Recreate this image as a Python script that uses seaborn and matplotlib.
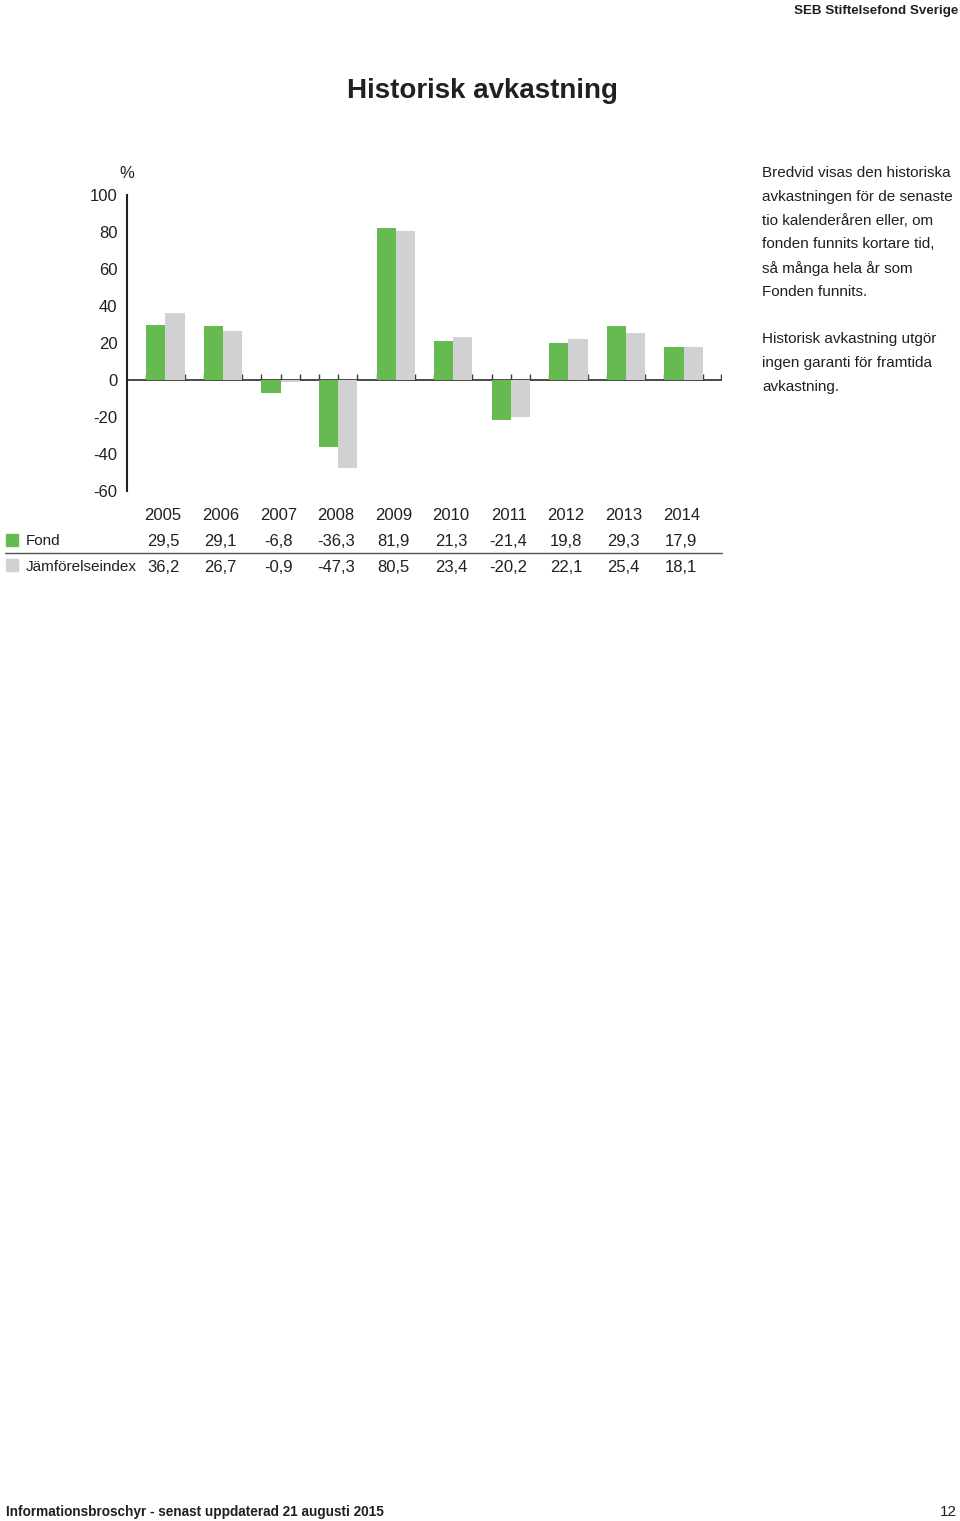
import numpy as np
import pandas as pd
import matplotlib.pyplot as plt
import matplotlib.transforms as mtransforms
from matplotlib.patches import Rectangle
from matplotlib.lines import Line2D
import seaborn as sns

# data
years = ['2005', '2006', '2007', '2008', '2009', '2010', '2011', '2012', '2013', '2014']
fond = [29.5, 29.1, -6.8, -36.3, 81.9, 21.3, -21.4, 19.8, 29.3, 17.9]
index = [36.2, 26.7, -0.9, -47.3, 80.5, 23.4, -20.2, 22.1, 25.4, 18.1]
series = ['Fond', 'Jämförelseindex']
y_ticks = [100, 80, 60, 40, 20, 0, -20, -40, -60]

GREEN = '#66bb50'
GREY = '#d1d1d3'
DARK = '#231f20'

sns.set_style('white')
plt.rcParams['font.family'] = ['Liberation Sans', 'DejaVu Sans']

df = pd.DataFrame({
    'year': years * 2,
    'value': fond + index,
    'serie': [series[0]] * len(years) + [series[1]] * len(years),
})

W, H = 960, 1521
fig = plt.figure(figsize=(W / 100, H / 100), dpi=100)

def fx(px):
    return px / W

def fy(py):
    return 1 - py / H

ax = fig.add_axes([fx(127), fy(491), fx(722) - fx(127), fy(195) - fy(491)])
sns.barplot(data=df, x='year', y='value', hue='serie', order=years,
            hue_order=series, palette=[GREEN, GREY], width=2 / 3,
            saturation=1, dodge=True, ax=ax, legend=False, edgecolor='none',
            linewidth=0, zorder=2)

ax.set_xlim(-2 / 3, 29 / 3)
ax.set_ylim(-60, 100)
ax.set_xticks([])
ax.set_yticks(y_ticks)
ax.set_yticklabels([str(t) for t in y_ticks])
ax.set_xlabel('')
ax.set_ylabel('')
for side in ['top', 'right', 'bottom']:
    ax.spines[side].set_visible(False)
ax.spines['left'].set_color(DARK)
ax.spines['left'].set_linewidth(1.5)
ax.tick_params(axis='y', direction='in', length=10, width=1.5, color=DARK,
               pad=7, labelsize=12, labelcolor=DARK)
for lab in ax.get_yticklabels():
    lab.set_y(lab.get_position()[1])

# zero line with small ticks at bar edges
ax.axhline(0, color='#3c3c3c', lw=1.3, zorder=1)
edge_x = np.arange(-1, 29) / 3
ax.vlines(edge_x, 0, 3.4, color='#3c3c3c', lw=1.0, zorder=1)
ax.vlines([29 / 3 - 0.01], 0, 3.4, color='#3c3c3c', lw=1.0, zorder=1)

fig.text(fx(127), fy(174), '%', ha='center', va='center', fontsize=12, color=DARK)

# table below the chart
tr = mtransforms.blended_transform_factory(ax.transData, fig.transFigure)
for i, yr in enumerate(years):
    ax.text(i - 0.04, fy(516), yr, transform=tr, ha='center', va='center', fontsize=12, color=DARK)
    ax.text(i - 0.04, fy(541), f'{fond[i]:.1f}'.replace('.', ','), transform=tr,
            ha='center', va='center', fontsize=12, color=DARK)
    ax.text(i - 0.04, fy(567), f'{index[i]:.1f}'.replace('.', ','), transform=tr,
            ha='center', va='center', fontsize=12, color=DARK)

fig.add_artist(Rectangle((fx(6), fy(546)), fx(12), 12 / H, color=GREEN,
                         transform=fig.transFigure))
fig.add_artist(Rectangle((fx(6), fy(571)), fx(12), 12 / H, color=GREY,
                         transform=fig.transFigure))
fig.text(fx(26), fy(541), series[0], ha='left', va='center', fontsize=11, color=DARK)
fig.text(fx(26), fy(567), series[1], ha='left', va='center', fontsize=11, color=DARK)
fig.add_artist(Line2D([fx(5), fx(722)], [fy(552.5), fy(552.5)], color='#555555',
                      lw=1.0, transform=fig.transFigure))

# page texts
fig.text(fx(958), fy(11), 'SEB Stiftelsefond Sverige', ha='right', va='center',
         fontsize=9.6, fontweight='bold', color=DARK)
fig.text(fx(482), fy(91), 'Historisk avkastning', ha='center', va='center',
         fontsize=20, fontweight='bold', color=DARK)

para1 = ['Bredvid visas den historiska', 'avkastningen för de senaste',
         'tio kalenderåren eller, om', 'fonden funnits kortare tid,',
         'så många hela år som', 'Fonden funnits.']
para2 = ['Historisk avkastning utgör', 'ingen garanti för framtida',
         'avkastning.']
for k, line in enumerate(para1):
    fig.text(fx(762), fy(173 + k * 23.8), line, ha='left', va='center',
             fontsize=11, color=DARK)
for k, line in enumerate(para2):
    fig.text(fx(762), fy(339 + k * 23.8), line, ha='left', va='center',
             fontsize=11, color=DARK)

fig.text(fx(6), fy(1512), 'Informationsbroschyr - senast uppdaterad 21 augusti 2015',
         ha='left', va='center', fontsize=9.8, fontweight='bold', color=DARK)
fig.text(fx(957), fy(1512), '12', ha='right', va='center', fontsize=11, color=DARK)

fig.savefig('out.png', dpi=100)
